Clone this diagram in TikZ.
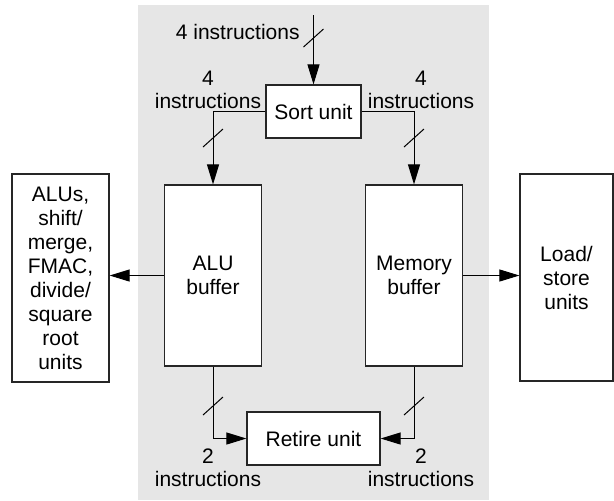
\documentclass[tikz,border=0pt]{standalone}
\usepackage{fontspec}
\setmainfont{Liberation Sans}
\usetikzlibrary{positioning}
\usetikzlibrary{arrows.meta}
\definecolor{panelgray}{RGB}{230,230,230}
\tikzset{%
  unit/.style = {rectangle,draw=black!85,fill=white,line width=0.6pt,
        inner sep=0pt,align=center,font=\fontsize{10.5}{12}\selectfont},
  bus/.style = {-{Triangle[length=10pt,width=6pt]},line width=0.5pt},
  lbl/.style = {inner sep=0pt,align=center,
        font=\fontsize{10.5}{11.5}\selectfont},
  pics/slash/.style = {code={\draw[line width=0.5pt] (-10,9) -- (10,-9);}}
}

\begin{document}
\begin{tikzpicture}[x=0.5pt,y=-0.5pt]
                \useasboundingbox (0,0) rectangle (614,500);
                % shaded issue stage
                \fill[panelgray] (138,5) rectangle (489,500);

                \node[unit,minimum width=47.5pt,minimum height=26.5pt] (sort) at (313.5,111.5) {Sort unit};
                \node[unit,minimum width=48.5pt,minimum height=90.5pt] (alubuf) at (213,275.5) {ALU\\buffer};
                \node[unit,minimum width=48.5pt,minimum height=90.5pt] (membuf) at (414,275.5) {Memory\\buffer};
                \node[unit,minimum width=66.5pt,minimum height=26.5pt] (retire) at (313.5,438.5) {Retire unit};
                \node[unit,minimum width=48.5pt,minimum height=104pt] (alus) at (60.5,278)
                    {ALUs,\\shift/\\merge,\\FMAC,\\divide/\\square\\root\\units};
                \node[unit,minimum width=46.5pt,minimum height=103.5pt] (ldst) at (566.5,277.5) {Load/\\store\\units};

                \coordinate (in) at (313.5,15);
                \draw[bus] (in) -- (sort.north);
                \draw[bus] (sort.west) -| (alubuf.north);
                \draw[bus] (sort.east) -| (membuf.north);
                \draw[bus] (alubuf.south) |- (retire.west);
                \draw[bus] (membuf.south) |- (retire.east);
                \draw[bus] (alubuf.west) -- (alubuf.west -| alus.east);
                \draw[bus] (membuf.east) -- (membuf.east -| ldst.west);

                % bus width marks
                \pic at (313.5,38) {slash};
                \pic at (213,138) {slash};
                \pic at (414,138) {slash};
                \pic at (213,406) {slash};
                \pic at (414,406) {slash};

                \node[lbl,anchor=east] (intop) at (300,32) {4 instructions};
                \node[lbl] (inleft) at (208,90) {4\\instructions};
                \node[lbl] (inright) at (421,90) {4\\instructions};
                \node[lbl] (outleft) at (208,468) {2\\instructions};
                \node[lbl] (outright) at (421,468) {2\\instructions};
            \end{tikzpicture}
\end{document}
